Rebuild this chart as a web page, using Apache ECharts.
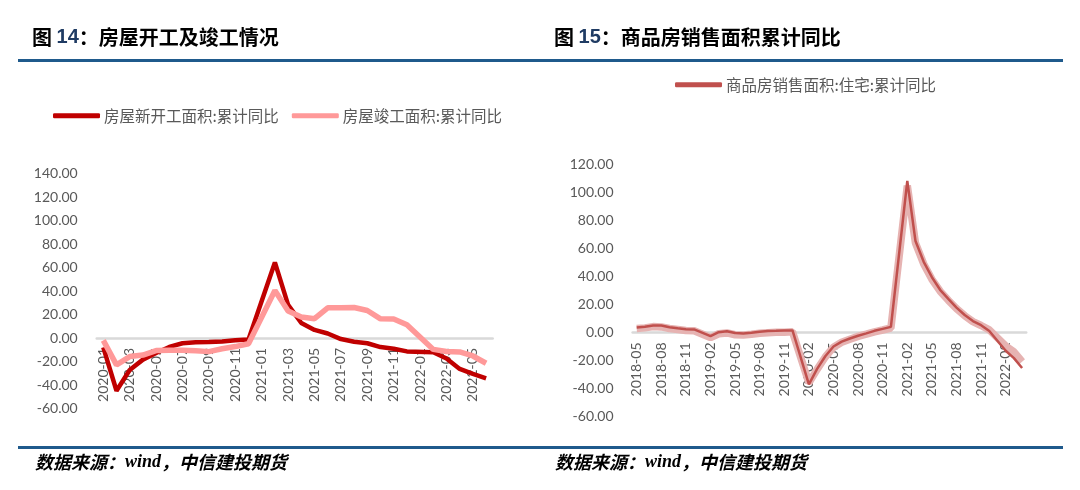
<!DOCTYPE html>
<html>
<head>
<meta charset="utf-8">
<script src="https://cdn.jsdelivr.net/npm/echarts@6/dist/echarts.min.js"></script>
<style>
html,body{margin:0;padding:0;background:#fff;}
#c{width:1080px;height:490px;}
</style>
</head>
<body>
<div id="c"></div>
<script>
// ---------- Left chart: 房屋新开工 / 竣工 ----------
const leftCategories = ['2020-01','2020-02','2020-03','2020-04','2020-05','2020-06','2020-07','2020-08','2020-09','2020-10','2020-11','2020-12',
  '2021-01','2021-02','2021-03','2021-04','2021-05','2021-06','2021-07','2021-08','2021-09','2021-10','2021-11','2021-12',
  '2022-01','2022-02','2022-03','2022-04','2022-05','2022-06'];
const leftStarts = [-8, -44.9, -27.2, -18.4, -12.8, -7.6, -4.5, -3.6, -3.4, -2.9, -2.0, -1.2,
  null, 64.3, 28.2, 12.8, 6.9, 3.8, -0.9, -3.2, -4.5, -7.7, -9.1, -11.4,
  null, -12.2, -17.5, -26.3, -30.6, -34.4];
const leftCompletions = [-2, -22.9, -15.8, -14.5, -10.7, -10.5, -10.5, -10.8, -11.6, -9.2, -7.3, -4.9,
  null, 40.4, 22.9, 17.9, 16.4, 25.7, 25.7, 26.0, 23.4, 16.3, 16.2, 11.2,
  null, -9.7, -11.5, -11.9, -15.3, -21.5];
const leftNames = ['房屋新开工面积:累计同比', '房屋竣工面积:累计同比'];
const leftYTicks = {min: -60, max: 140, interval: 20};

// ---------- Right chart: 商品房销售面积 ----------
const rightCategories = ['2018-05','2018-06','2018-07','2018-08','2018-09','2018-10','2018-11','2018-12',
  '2019-01','2019-02','2019-03','2019-04','2019-05','2019-06','2019-07','2019-08','2019-09','2019-10','2019-11','2019-12',
  '2020-01','2020-02','2020-03','2020-04','2020-05','2020-06','2020-07','2020-08','2020-09','2020-10','2020-11','2020-12',
  '2021-01','2021-02','2021-03','2021-04','2021-05','2021-06','2021-07','2021-08','2021-09','2021-10','2021-11','2021-12',
  '2022-01','2022-02','2022-03','2022-04'];
const rightTotal = [2.9, 3.3, 4.2, 4.0, 2.9, 2.2, 1.4, 1.3,
  null, -3.6, -0.9, -0.3, -1.6, -1.8, -1.3, -0.6, -0.1, 0.1, 0.2, 0.5,
  null, -36, -26.3, -17.5, -10.5, -7.0, -4.8, -2.8, -1.2, 0.5, 1.8, 3.2,
  null, 104.9, 63.8, 49.0, 38.0, 29.5, 23.0, 17.0, 12.0, 7.8, 5.0, 1.9,
  null, -9.6, -13.8, -20.9];
const rightResidential = [3.6, 4.1, 5.0, 5.0, 3.8, 3.0, 2.4, 2.2,
  null, -2.6, 0.2, 0.9, -0.4, -0.7, -0.2, 0.5, 1.0, 1.2, 1.5, 1.5,
  null, -37, -26, -17, -10, -6.5, -4.3, -2.3, -0.6, 1.2, 2.6, 4.0,
  null, 108.3, 65.3, 50.5, 39.5, 30.5, 24.0, 17.8, 12.5, 8.2, 5.2, 1.1,
  null, -13.0, -18.3, -25.4];
const rightName = '商品房销售面积:住宅:累计同比';
const rightYTicks = {min: -60, max: 120, interval: 20};

const titles = ['房屋开工及竣工情况', '商品房销售面积累计同比'];
const figNums = ['14', '15'];
const sourceText = ['数据来源：', 'wind', '，中信建投期货'];

const numFont = 'Lato, "Noto Sans", sans-serif';
const cjkFont = '"Noto Sans CJK SC", sans-serif';

function yAxisCfg(gridIndex, t) {
  return {
    type: 'value', gridIndex: gridIndex, min: t.min, max: t.max, interval: t.interval,
    axisLine: {show: false}, axisTick: {show: false}, splitLine: {show: false},
    axisLabel: {formatter: v => v.toFixed(2), color: '#595959', fontSize: 14, fontFamily: numFont, margin: 19}
  };
}
// x axis sits on the zero line (offset lifts it from the grid bottom up to y=0)
function xAxisCfg(gridIndex, cats, interval, offset) {
  return {
    type: 'category', gridIndex: gridIndex, data: cats, boundaryGap: true, offset: offset,
    axisLine: {onZero: false, lineStyle: {color: '#d9d9d9', width: 2.5}},
    axisTick: {show: false},
    axisLabel: {rotate: 90, interval: interval, color: '#595959', fontSize: 14, fontFamily: numFont, margin: 10}
  };
}

const chart = echarts.init(document.getElementById('c'), null, {renderer: 'canvas'});
const titleRich = {a: {fontSize: 20, fontWeight: 'bold', color: '#000', fontFamily: cjkFont},
                   n: {fontSize: 20, fontWeight: 'bold', color: '#1f3b63', fontFamily: 'Liberation Sans, Arial, sans-serif'}};
const srcRich = {a: {fontSize: 18, fontWeight: 'bold', fontStyle: 'italic', color: '#000', fontFamily: cjkFont},
                 w: {fontSize: 18, fontWeight: 'bold', fontStyle: 'italic', color: '#000', fontFamily: '"Liberation Serif", serif'}};
const srcStr = '{a|' + sourceText[0] + '}{w|' + sourceText[1] + '}{a|' + sourceText[2] + '}';
chart.setOption({
  animation: false,
  backgroundColor: '#fff',
  title: [
    {text: '{a|图 }{n|' + figNums[0] + '}{a|：' + titles[0] + '}', left: 32, top: 27, padding: 0, textStyle: {rich: titleRich}},
    {text: '{a|图 }{n|' + figNums[1] + '}{a|：' + titles[1] + '}', left: 554, top: 27, padding: 0, textStyle: {rich: titleRich}},
    {text: srcStr, left: 35, top: 453, padding: 0, textStyle: {rich: srcRich}},
    {text: srcStr, left: 555, top: 453, padding: 0, textStyle: {rich: srcRich}}
  ],
  legend: [
    {data: leftNames, left: 53, top: 108, padding: 0, itemGap: 13, itemWidth: 47, itemHeight: 5,
     icon: 'roundRect', textStyle: {color: '#595959', fontSize: 15.5, fontFamily: cjkFont, padding: [0,0,0,-1]}},
    {data: [rightName], left: 675, top: 77, padding: 0, itemWidth: 47, itemHeight: 5,
     icon: 'roundRect', textStyle: {color: '#595959', fontSize: 15.5, fontFamily: cjkFont, padding: [0,0,0,-1]}}
  ],
  grid: [
    {left: 96.7, right: 587.3, top: 173.5, bottom: 81.5, containLabel: false},
    {left: 632.6, right: 53.8, top: 164.5, bottom: 73.5, containLabel: false}
  ],
  xAxis: [xAxisCfg(0, leftCategories, 1, -70.5), xAxisCfg(1, rightCategories, 2, -84)],
  yAxis: [yAxisCfg(0, leftYTicks), yAxisCfg(1, rightYTicks)],
  series: [
    {name: leftNames[0], type: 'line', xAxisIndex: 0, yAxisIndex: 0, data: leftStarts, connectNulls: true,
     symbol: 'none', color: '#c00000', lineStyle: {color: '#c00000', width: 4.5}},
    {name: leftNames[1], type: 'line', xAxisIndex: 0, yAxisIndex: 0, data: leftCompletions, connectNulls: true,
     symbol: 'none', color: '#ff9999', lineStyle: {color: '#ff9999', width: 5.5}},
    {name: '商品房销售面积:累计同比', type: 'line', xAxisIndex: 1, yAxisIndex: 1, data: rightTotal, connectNulls: true,
     symbol: 'none', color: '#e6b3b2', lineStyle: {color: '#e6b3b2', width: 7.5}},
    {name: rightName, type: 'line', xAxisIndex: 1, yAxisIndex: 1, data: rightResidential, connectNulls: true,
     symbol: 'none', color: '#c0504d', lineStyle: {color: '#c0504d', width: 2.5}}
  ],
  graphic: [
    {type: 'rect', shape: {x: 18, y: 59, width: 1045, height: 3}, style: {fill: '#1f5a8c'}},
    {type: 'rect', shape: {x: 18, y: 446, width: 1045, height: 3}, style: {fill: '#1f5a8c'}}
  ]
});
</script>
</body>
</html>
